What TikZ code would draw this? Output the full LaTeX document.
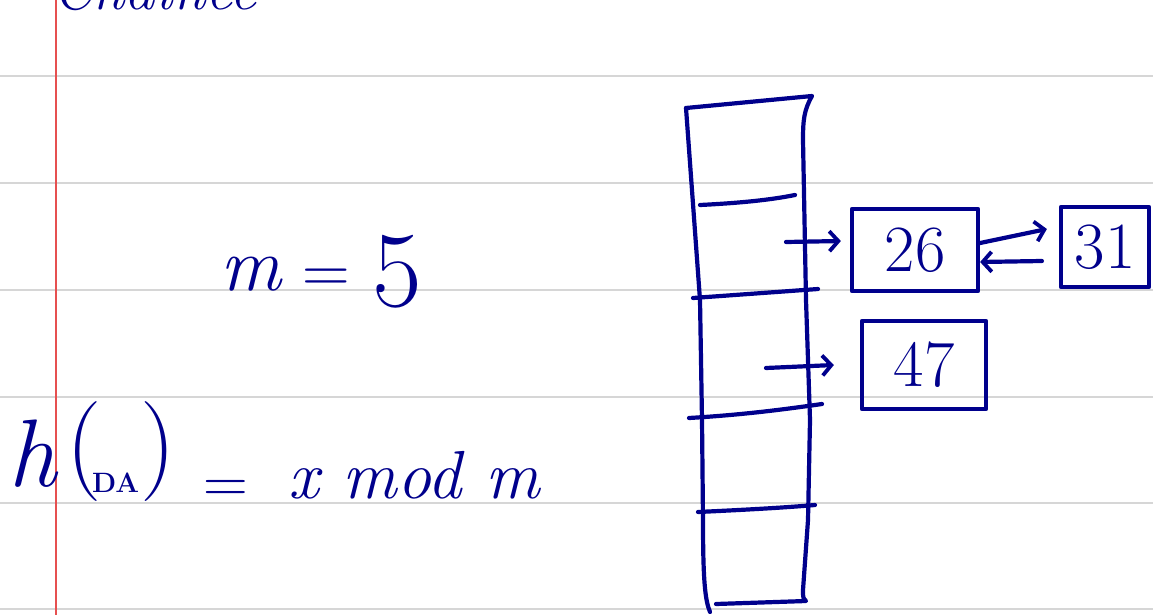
\documentclass[tikz,border=0pt]{standalone}
\usetikzlibrary{arrows.meta,calc}
\definecolor{ink}{RGB}{0,0,140}
\definecolor{rule}{RGB}{214,214,214}
\definecolor{margin}{RGB}{230,80,80}
\tikzset{
  pen/.style={draw=ink, line width=4.2pt, line cap=round, line join=round},
  ruled/.style={draw=rule, line width=2.6pt},
  cellbox/.style={pen, rectangle, inner sep=0pt, text=ink, font=\fontsize{66}{70}\selectfont},
  hand/.style={text=ink, inner sep=0pt},
  link/.style={pen, -{Straight Barb[length=9pt,width=20pt,line width=3.8pt]}}
}
\begin{document}
\begin{tikzpicture}[x=1pt,y=-1pt]
\clip (0,0) rectangle (1153,615);
\fill[white] (0,0) rectangle (1153,615);
% ruled paper
\foreach \y in {76,183,290,397,503,609}
  \draw[ruled] (0,\y) -- (1153,\y);
\draw[margin, line width=1.2pt] (56,0) -- (56,615);
% title (cut off at the top)
\node[hand, anchor=base west, font=\itshape\fontsize{60}{70}\selectfont] (title) at (52,10) {Chaînée};
% formulas
\node[hand, anchor=base west, font=\itshape\fontsize{76}{80}\selectfont] (meq) at (220,290) {m};
\node[hand, anchor=base west, font=\fontsize{66}{70}\selectfont] (eq1) at (302,292) {=};
\node[hand, anchor=base west, font=\fontsize{108}{110}\selectfont] (five) at (372,306) {5};
\node[hand, anchor=base west, font=\itshape\fontsize{96}{110}\selectfont] (h) at (8,486) {h};
\node[hand, anchor=base west, font=\fontsize{100}{110}\selectfont] (lp) at (66,476) {(};
\node[hand, anchor=base west, font=\bfseries\fontsize{28}{30}\selectfont] (arg) at (92,492) {DA};
\node[hand, anchor=base west, font=\fontsize{100}{110}\selectfont] (rp) at (140,476) {)};
\node[hand, anchor=base west, font=\fontsize{62}{66}\selectfont] (eq2) at (203,502) {=};
\node[hand, anchor=base west, font=\itshape\fontsize{68}{70}\selectfont] (xm) at (288,498) {x mod m};
% hash table
\draw[pen] (686,108) -- (812,96) .. controls (804,110) and (803,120) .. (803,140)
  -- (806,300) -- (810,420) -- (808,520) -- (803,590) .. controls (803,598) .. (806,601)
  -- (716,604);
\draw[pen] (686,108) -- (700,300) -- (702,420) -- (703,520) .. controls (703,580) and (705,600) .. (710,612);
\draw[pen] (700,205) .. controls (740,203) and (770,200) .. (795,195);
\draw[pen] (693,298) -- (818,289);
\draw[pen] (689,418) .. controls (740,415) and (780,410) .. (822,404);
\draw[pen] (698,512) .. controls (740,510) and (780,508) .. (815,505);
\coordinate (s2) at (786,242);
\coordinate (s3) at (766,368);
% list nodes
\node[cellbox, minimum width=126pt, minimum height=82pt] (b26) at (915,250) {26};
\node[cellbox, minimum width=88pt, minimum height=80pt] (b31) at (1105,247) {31};
\node[cellbox, minimum width=124pt, minimum height=88pt] (b47) at (924,365) {47};
% links
\draw[link] (s2) -- ($(b26.west)+(-9,-9)$);
\draw[link] (s3) -- ($(b47.west)+(-26,0)$);
\draw[link] ($(b26.east)+(0,-7)$) -- ($(b31.west)+(-12,-18)$);
\draw[link] ($(b31.west)+(-17,14)$) -- ($(b26.east)+(0,12)$);
\end{tikzpicture}
\end{document}
